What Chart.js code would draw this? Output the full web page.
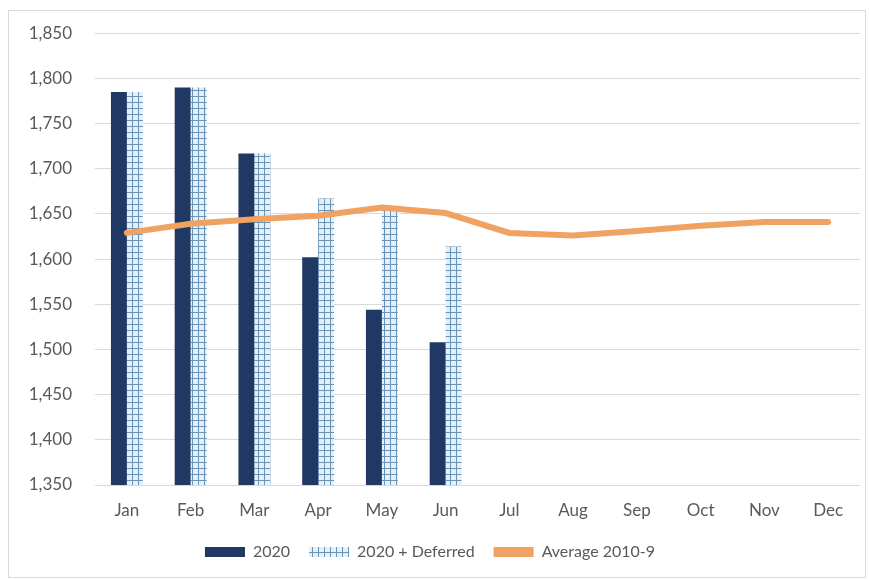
<!DOCTYPE html>
<html>
<head>
<meta charset="utf-8">
<script src="https://cdn.jsdelivr.net/npm/chart.js@4"></script>
<style>
  html, body { margin: 0; padding: 0; background: #fff; }
  #wrap { position: relative; width: 869px; height: 580px; }
</style>
</head>
<body>
<div id="wrap"><canvas id="chart" width="869" height="580"></canvas></div>
<script>
const months = ['Jan', 'Feb', 'Mar', 'Apr', 'May', 'Jun', 'Jul', 'Aug', 'Sep', 'Oct', 'Nov', 'Dec']
const actual2020 = [1785, 1790, 1717, 1602, 1544, 1508, null, null, null, null, null, null]
const deferred2020 = [1785, 1790, 1717, 1667, 1659, 1614, null, null, null, null, null, null]
const average2010to9 = [1629, 1639, 1644, 1648, 1657, 1651, 1629, 1626, 1631, 1637, 1641, 1641]

const navy = '#1F3864'
const orange = '#F0A262'
const textGrey = '#595959'

// grid hatch like the excel pattern fill
function makeHatch () {
  const c = document.createElement('canvas')
  c.width = 6
  c.height = 6
  const x = c.getContext('2d')
  x.fillStyle = '#E3F0FA'
  x.fillRect(0, 0, 6, 6)
  x.fillStyle = '#6A93B8'
  x.fillRect(0, 0, 6, 1)
  x.fillRect(0, 0, 1, 6)
  return x.createPattern(c, 'repeat')
}
const hatch = makeHatch()

const framePlugin = {
  id: 'frame',
  beforeDraw (chart) {
    const ctx = chart.ctx
    ctx.save()
    ctx.fillStyle = '#fff'
    ctx.fillRect(0, 0, chart.width, chart.height)
    ctx.strokeStyle = '#D9D9D9'
    ctx.lineWidth = 1
    ctx.strokeRect(8.5, 10.5, 857, 567)
    ctx.restore()
  }
}

Chart.defaults.font.family = 'Lato, "Noto Sans", sans-serif'
Chart.defaults.font.size = 17
Chart.defaults.color = textGrey

new Chart(document.getElementById('chart'), {
  type: 'bar',
  data: {
    labels: months,
    datasets: [
      {
        label: '2020',
        data: actual2020,
        backgroundColor: navy,
        order: 2
      },
      {
        label: '2020 + Deferred',
        data: deferred2020,
        backgroundColor: hatch,
        order: 2
      },
      {
        type: 'line',
        label: 'Average 2010-9',
        data: average2010to9,
        borderColor: orange,
        backgroundColor: orange,
        borderWidth: 6,
        pointRadius: 0,
        tension: 0,
        borderCapStyle: 'round',
        order: 1
      }
    ]
  },
  options: {
    responsive: false,
    animation: false,
    layout: {
      padding: { top: 28, right: 9, bottom: 10, left: 0 }
    },
    datasets: {
      bar: { categoryPercentage: 0.5, barPercentage: 1.0 }
    },
    scales: {
      x: {
        grid: { display: false },
        border: { display: false },
        ticks: { padding: 7 },
        afterFit: (axis) => { axis.height = 40 }
      },
      y: {
        min: 1350,
        max: 1850,
        ticks: {
          stepSize: 50,
          padding: 23,
          callback: (v) => v.toLocaleString('en-US')
        },
        grid: { color: '#D9D9D9', drawTicks: false },
        border: { display: false },
        afterFit: (axis) => { axis.width = 95 }
      }
    },
    plugins: {
      legend: {
        position: 'bottom',
        labels: {
          font: { size: 16 },
          boxWidth: 40,
          boxHeight: 10,
          padding: 19,
          generateLabels: (chart) => chart.data.datasets.map((ds, i) => ({
            text: ds.label,
            fillStyle: ds.backgroundColor,
            strokeStyle: ds.backgroundColor,
            lineWidth: 0,
            fontColor: textGrey,
            datasetIndex: i
          }))
        }
      },
      tooltip: { enabled: false }
    }
  },
  plugins: [framePlugin]
})
</script>
</body>
</html>
